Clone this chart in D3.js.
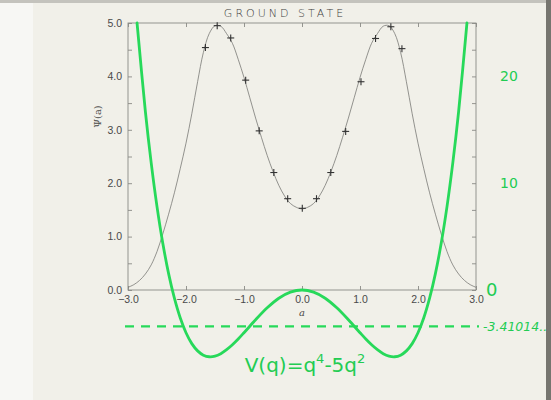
<!DOCTYPE html>
<html><head><meta charset="utf-8">
<script src="https://cdn.jsdelivr.net/npm/d3@7"></script>
<style>
html,body{margin:0;padding:0;background:#f1f0e9;}
svg{display:block;}
</style></head>
<body>
<svg id="chart" width="551" height="400"></svg>
<script>
// ---- data ----
const title = "GROUND STATE";
const xTicks = [-3, -2, -1, 0, 1, 2, 3];
const yTicks = [0, 1, 2, 3, 4, 5];
const rightTicks = [0, 10, 20];
const curveA = [-3.0,-2.9,-2.8,-2.7,-2.6,-2.5,-2.4,-2.3,-2.2,-2.1,-2.0,-1.9,-1.8,-1.7,-1.6,-1.5,-1.4,-1.3,-1.2,-1.1,-1.0,-0.9,-0.8,-0.7,-0.6,-0.5,-0.4,-0.3,-0.2,-0.1,0.0,
  0.1,0.2,0.3,0.4,0.5,0.6,0.7,0.8,0.9,1.0,1.1,1.2,1.3,1.4,1.5,1.6,1.7,1.8,1.9,2.0,2.1,2.2,2.3,2.4,2.5,2.6,2.7,2.8,2.9,3.0];
const curvePsi = [0.05,0.10,0.18,0.30,0.47,0.72,1.05,1.42,1.82,2.27,2.75,3.30,3.90,4.45,4.80,4.95,4.94,4.80,4.62,4.32,3.98,3.60,3.22,2.86,2.52,2.22,1.96,1.76,1.62,1.55,1.52,
  1.55,1.62,1.76,1.96,2.22,2.52,2.86,3.22,3.60,3.98,4.32,4.62,4.80,4.94,4.95,4.80,4.45,3.90,3.30,2.75,2.27,1.82,1.42,1.05,0.72,0.47,0.30,0.18,0.10,0.05];
const markA = [-1.665,-1.462,-1.229,-0.971,-0.738,-0.486,-0.247,0.005,0.25,0.496,0.753,1.017,1.268,1.532,1.723];
const markPsi = [4.54,4.95,4.72,3.93,2.98,2.20,1.71,1.53,1.71,2.20,2.97,3.90,4.71,4.93,4.52];
// hand-drawn potential V(q), on the right-hand scale
const potQ = [-2.844,-2.7,-2.6,-2.5,-2.4,-2.3,-2.2,-2.1,-2.0,-1.9,-1.8,-1.7,-1.6,-1.5,-1.4,-1.3,-1.2,-1.1,-1.0,-0.8,-0.6,-0.4,-0.2,0.0,
  0.2,0.4,0.6,0.8,1.0,1.1,1.2,1.3,1.4,1.5,1.6,1.7,1.8,1.9,2.0,2.1,2.2,2.3,2.4,2.5,2.6,2.7,2.844];
const potV = [25.0,16.69,11.90,7.81,4.38,1.53,-0.77,-2.60,-4.00,-5.02,-5.70,-6.10,-6.25,-6.19,-5.96,-5.59,-5.13,-4.59,-4.00,-2.79,-1.67,-0.77,-0.20,0.0,
  -0.20,-0.77,-1.67,-2.79,-4.00,-4.59,-5.13,-5.59,-5.96,-6.19,-6.25,-6.10,-5.70,-5.02,-4.00,-2.60,-0.77,1.53,4.38,7.81,11.90,16.69,25.0];
const groundEnergy = -3.41014;
const energyLabel = "-3.41014..";

// ---- layout ----
const L = 128, R = 476, T = 23, B = 290;
const svg = d3.select("#chart");
const green = "#27d95a";
const axisGrey = "#8a8a86";
const textGrey = "#4a4a4a";

// paper
svg.append("rect").attr("width",551).attr("height",400).attr("fill","#f1f0e9");
svg.append("rect").attr("x",0).attr("y",0).attr("width",33).attr("height",400).attr("fill","#f7f7f4");
svg.append("rect").attr("x",0).attr("y",0).attr("width",551).attr("height",3).attr("fill","#c4c3bd");
svg.append("rect").attr("x",546).attr("y",0).attr("width",5).attr("height",400).attr("fill","#76756f");

const x = d3.scaleLinear().domain([-3,3]).range([L,R]);
const y = d3.scaleLinear().domain([0,5]).range([B,T]);
const yR = d3.scaleLinear().domain([0,25]).range([B,T]);

// frame
svg.append("rect").attr("x",L).attr("y",T).attr("width",R-L).attr("height",B-T)
  .attr("fill","none").attr("stroke",axisGrey).attr("stroke-width",0.9);

function styleAxis(g){
  g.select(".domain").remove();
  g.selectAll(".tick line").attr("stroke",axisGrey).attr("stroke-width",0.9);
  g.selectAll(".tick text").attr("fill",textGrey).attr("font-family","Liberation Sans, Arial, sans-serif").attr("font-size",10.5);
}
// bottom axis
svg.append("g").attr("transform",`translate(0,${B})`)
  .call(d3.axisBottom(x).tickValues(xTicks).tickSize(-4).tickPadding(6).tickFormat(d3.format(".1f")))
  .call(styleAxis);
// top ticks
svg.append("g").attr("transform",`translate(0,${T})`)
  .call(d3.axisTop(x).tickValues(xTicks).tickSize(-4).tickFormat(""))
  .call(styleAxis);
// left axis
svg.append("g").attr("transform",`translate(${L},0)`)
  .call(d3.axisLeft(y).tickValues(d3.range(0,5.01,0.5)).tickSize(-4).tickPadding(6)
     .tickFormat(d => Number.isInteger(d) ? d3.format(".1f")(d) : ""))
  .call(styleAxis);
// right ticks
svg.append("g").attr("transform",`translate(${R},0)`)
  .call(d3.axisRight(y).tickValues(d3.range(0,5.01,0.5)).tickSize(-4).tickFormat(""))
  .call(styleAxis);
// right-hand green labels
const gR = svg.append("g").attr("transform",`translate(${R},0)`)
  .call(d3.axisRight(yR).tickValues(rightTicks).tickSize(0).tickPadding(10));
gR.select(".domain").remove();
gR.selectAll(".tick text").attr("fill","#22cc52").attr("font-family","DejaVu Sans, sans-serif")
  .attr("font-size",d => d===0 ? 18 : 14)
  .attr("dx",d => d===0 ? 0 : 14);

// axis titles
svg.append("text").attr("x",(L+R)/2).attr("y",316).attr("text-anchor","middle")
  .attr("font-family","DejaVu Serif, serif").attr("font-style","italic").attr("font-size",10)
  .attr("fill",textGrey).text("a");
svg.append("text").attr("transform",`translate(101,${(T+B)/2 - 40}) rotate(-90)`).attr("text-anchor","middle")
  .attr("font-family","DejaVu Serif, serif").attr("font-size",10).attr("fill",textGrey).text("\u03A8(a)");

// title
svg.append("text").attr("x",285).attr("y",17).attr("text-anchor","middle")
  .attr("font-family","DejaVu Sans, sans-serif").attr("font-size",11).attr("font-weight",300)
  .attr("letter-spacing",3).attr("fill","#3c3c3c").text(title);

// wavefunction curve
const line = d3.line().x((d,i)=>x(curveA[i])).y(d=>y(d)).curve(d3.curveCatmullRom);
svg.append("path").attr("d",line(curvePsi)).attr("fill","none").attr("stroke","#7a7a76").attr("stroke-width",0.8);

// markers
const ms = 3.5;
const mk = svg.append("g").attr("stroke","#333").attr("stroke-width",1.1);
markA.forEach((a,i)=>{
  const cx = x(a), cy = y(markPsi[i]);
  mk.append("line").attr("x1",cx-ms).attr("x2",cx+ms).attr("y1",cy).attr("y2",cy);
  mk.append("line").attr("x1",cx).attr("x2",cx).attr("y1",cy-ms).attr("y2",cy+ms);
});

// green hand annotations
const pline = d3.line().x((d,i)=>x(potQ[i])).y(d=>yR(d)).curve(d3.curveCatmullRom);
svg.append("path").attr("d",pline(potV)).attr("fill","none").attr("stroke",green)
  .attr("stroke-width",2.8).attr("stroke-linecap","round");
svg.append("line").attr("x1",L-3).attr("x2",R+3).attr("y1",yR(groundEnergy)).attr("y2",yR(groundEnergy))
  .attr("stroke",green).attr("stroke-width",2.4).attr("stroke-dasharray","9,7");
svg.append("text").attr("x",R+7).attr("y",yR(groundEnergy)+5).attr("fill","#22cc52")
  .attr("font-family","DejaVu Sans, sans-serif").attr("font-style","italic").attr("font-size",12.5)
  .text(energyLabel);
const ft = svg.append("text").attr("x",305).attr("y",372).attr("text-anchor","middle").attr("fill","#22cc52")
  .attr("font-family","DejaVu Sans, sans-serif").attr("font-size",20);
ft.append("tspan").text("V(q)=q");
ft.append("tspan").attr("dy",-9).attr("font-size",13).text("4");
ft.append("tspan").attr("dy",9).text("-5q");
ft.append("tspan").attr("dy",-9).attr("font-size",13).text("2");
</script>
</body></html>
